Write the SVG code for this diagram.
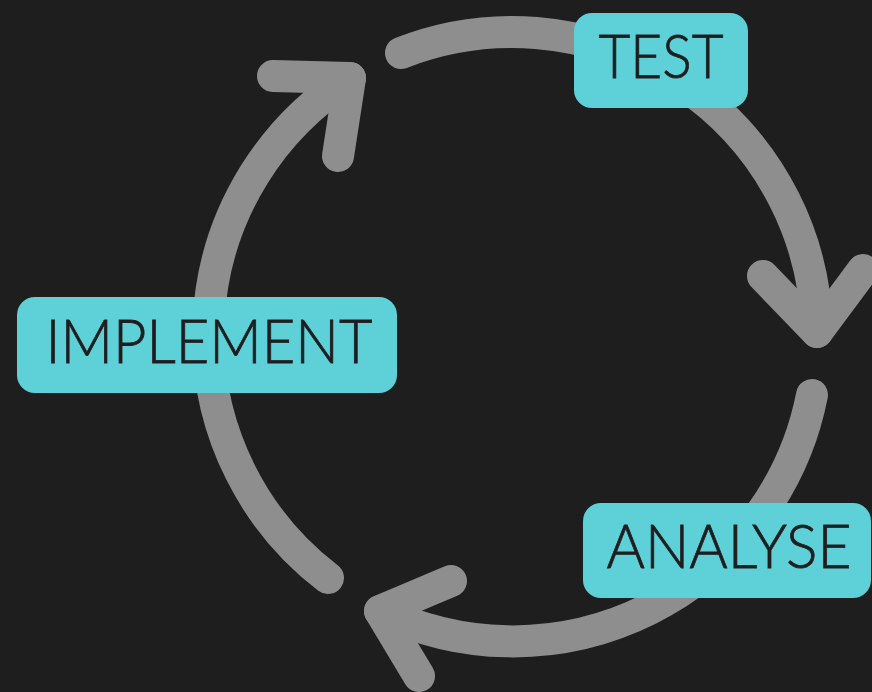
<svg xmlns="http://www.w3.org/2000/svg" width="872" height="692" viewBox="0 0 872 692">
  <style>
    .ring { fill: none; stroke: #8e8e8e; stroke-width: 32; stroke-linecap: round; stroke-linejoin: round; }
    .box { fill: #5ed0d8; }
    .label { font-family: Lato, "Open Sans", "Liberation Sans", sans-serif; font-weight: 300; font-size: 62px; fill: #1e1e1e; stroke: #1e1e1e; stroke-width: 0.8; text-anchor: middle; }
  </style>
  <rect width="872" height="692" fill="#1e1e1e"/>

  <g id="connectors">
    <!-- implement -> test -->
    <path class="ring" d="M 328 578 A 305 305 0 0 1 350 78"/>
    <polyline class="ring" points="273,76 350,78 338,156"/>
    <!-- test -> analyse -->
    <path class="ring" d="M 401 53 A 305 305 0 0 1 817 332"/>
    <polyline class="ring" points="763,276 817,332 863,270"/>
    <!-- analyse -> implement -->
    <path class="ring" d="M 812 395 A 305 305 0 0 1 380 611"/>
    <polyline class="ring" points="451,581 380,611 419,676"/>
  </g>

  <g id="test">
    <rect class="box" x="574" y="13" width="174" height="95" rx="18"/>
    <text class="label" x="661" y="78" textLength="125" lengthAdjust="spacingAndGlyphs">TEST</text>
  </g>

  <g id="implement">
    <rect class="box" x="17" y="297" width="380" height="96" rx="18"/>
    <text class="label" x="209" y="363" textLength="327" lengthAdjust="spacingAndGlyphs">IMPLEMENT</text>
  </g>

  <g id="analyse">
    <rect class="box" x="583" y="503" width="288" height="95" rx="18"/>
    <text class="label" x="729" y="568" textLength="245" lengthAdjust="spacingAndGlyphs">ANALYSE</text>
  </g>
</svg>
